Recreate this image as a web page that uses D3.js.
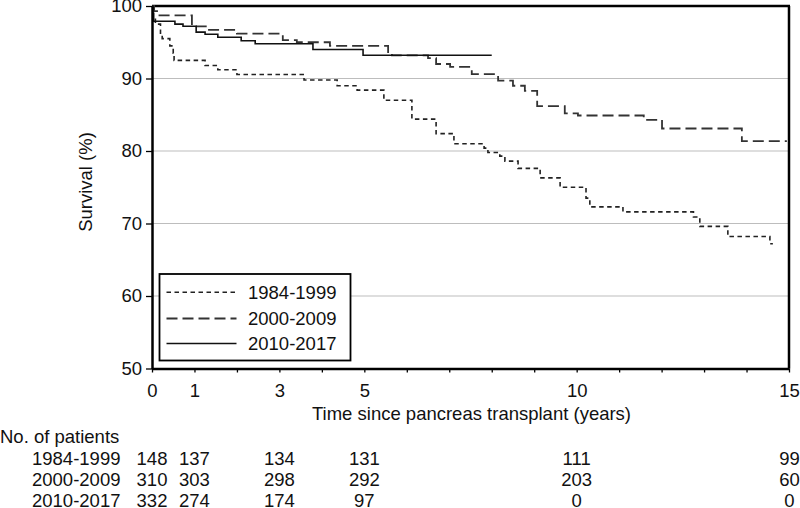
<!DOCTYPE html>
<html>
<head>
<meta charset="utf-8">
<script src="https://cdn.jsdelivr.net/npm/d3@7"></script>
<style>
  html, body { margin: 0; padding: 0; background: #fff; }
  svg { display: block; font-family: "Liberation Sans", Arial, sans-serif; }
</style>
</head>
<body>
<svg id="chart" width="800" height="508"></svg>
<script>
// ---- Data ----
const seriesNames = ["1984-1999", "2000-2009", "2010-2017"];

const times1984 = [0, 0.02, 0.08, 0.2, 0.24, 0.42, 0.5, 0.52, 1.25, 1.55, 2.0, 3.58, 4.36, 4.83, 5.46, 6.12, 6.69, 7.11, 7.82, 7.91, 8.19, 8.31, 8.62, 9.14, 9.61, 10.22, 10.31, 11.09, 12.75, 12.9, 13.56, 14.55, 14.62];
const surv1984  = [100, 98.5, 97.5, 96.0, 95.5, 94.5, 93.5, 92.5, 91.8, 91.2, 90.55, 89.8, 89.0, 88.4, 87.0, 84.4, 82.4, 81.0, 80.4, 79.8, 79.3, 78.6, 77.6, 76.3, 75.0, 73.5, 72.3, 71.6, 70.9, 69.6, 68.2, 67.2, 67.2];

const times2000 = [0, 0.05, 0.14, 0.94, 1.32, 2.0, 3.08, 3.41, 4.19, 5.56, 5.65, 6.5, 6.69, 7.02, 7.53, 8.15, 8.5, 8.78, 9.07, 9.72, 10.03, 11.58, 12.01, 13.89, 14.95];
const surv2000  = [100, 99.3, 98.7, 97.2, 96.7, 96.2, 95.3, 95.0, 94.5, 93.5, 93.2, 92.8, 92.0, 91.6, 90.6, 89.7, 89.0, 88.3, 86.2, 85.2, 84.9, 84.3, 83.1, 81.35, 81.35];

const times2010 = [0, 0.02, 0.04, 0.54, 0.73, 1.04, 1.25, 1.55, 2.1, 2.43, 3.79, 4.97, 8.0];
const surv2010  = [100, 99.0, 97.9, 97.5, 97.2, 96.4, 96.1, 95.7, 95.2, 94.8, 94.0, 93.2, 93.2];

const yTicks = [50, 60, 70, 80, 90, 100];
const gridTicks = [60, 70, 80, 90];
const xTicks = d3.range(0, 16);
const xLabelTicks = [0, 1, 3, 5, 10, 15];

const riskTimes = [0, 1, 3, 5, 10, 15];
const risk1984 = [148, 137, 134, 131, 111, 99];
const risk2000 = [310, 303, 298, 292, 203, 60];
const risk2010 = [332, 274, 174, 97, 0, 0];

// ---- Drawing ----
const svg = d3.select("#chart");
const FS = "18.5px";
const x = d3.scaleLinear().domain([0, 15]).range([152, 789]);
const y = d3.scaleLinear().domain([50, 100]).range([368.5, 6]);

// grid
svg.append("g").selectAll("line").data(gridTicks).join("line")
  .attr("x1", x(0)).attr("x2", x(15))
  .attr("y1", d => y(d)).attr("y2", d => y(d))
  .attr("stroke", "#bdbdbd").attr("stroke-width", 1.2);

// top and right borders
svg.append("line").attr("x1", x(0)).attr("x2", x(15) + 1).attr("y1", y(100)).attr("y2", y(100))
  .attr("stroke", "#000").attr("stroke-width", 2.5);
svg.append("line").attr("x1", x(15)).attr("x2", x(15)).attr("y1", y(100)).attr("y2", y(50))
  .attr("stroke", "#000").attr("stroke-width", 2.5);

// series
const styles = [
  { dash: "4.5,3.5", width: 1.6, color: "#222" },
  { dash: "11,5", width: 1.8, color: "#333" },
  { dash: null, width: 1.6, color: "#111" }
];
const seriesData = [
  times1984.map((t, i) => [t, surv1984[i]]),
  times2000.map((t, i) => [t, surv2000[i]]),
  times2010.map((t, i) => [t, surv2010[i]])
];
const line = d3.line().x(d => x(d[0])).y(d => y(d[1])).curve(d3.curveStepAfter);
seriesData.forEach((data, i) => {
  svg.append("path").datum(data)
    .attr("d", line)
    .attr("fill", "none")
    .attr("stroke", styles[i].color)
    .attr("stroke-width", styles[i].width)
    .attr("stroke-dasharray", styles[i].dash);
});

// y axis
const yAxis = svg.append("g").attr("transform", `translate(${x(0)},0)`)
  .call(d3.axisLeft(y).tickValues(yTicks).tickSize(6).tickSizeOuter(0).tickPadding(4));
yAxis.select(".domain").attr("stroke-width", 2.5).attr("stroke", "#000");
yAxis.selectAll(".tick line").attr("stroke-width", 1.3);
yAxis.selectAll("text").attr("font-size", FS).attr("font-family", "Liberation Sans, Arial, sans-serif").attr("fill", "#111");

// x axis
const xAxis = svg.append("g").attr("transform", `translate(0,${y(50)})`)
  .call(d3.axisBottom(x).tickValues(xTicks).tickSize(4).tickSizeOuter(0).tickPadding(11)
    .tickFormat(d => xLabelTicks.includes(d) ? d : ""));
xAxis.select(".domain").attr("stroke-width", 2.5).attr("stroke", "#000");
xAxis.selectAll(".tick line").attr("stroke-width", 1.3);
xAxis.selectAll("text").attr("font-size", FS).attr("font-family", "Liberation Sans, Arial, sans-serif").attr("fill", "#111");

// axis titles
svg.append("text")
  .attr("transform", `translate(92,182) rotate(-90)`)
  .attr("text-anchor", "middle")
  .attr("font-size", FS).attr("fill", "#111")
  .text("Survival (%)");
svg.append("text")
  .attr("x", 471.5).attr("y", 420)
  .attr("text-anchor", "middle")
  .attr("font-size", FS).attr("fill", "#111")
  .text("Time since pancreas transplant (years)");

// legend
const lg = svg.append("g");
lg.append("rect").attr("x", 159.5).attr("y", 274).attr("width", 191).attr("height", 86.5)
  .attr("fill", "#fff").attr("stroke", "#000").attr("stroke-width", 1.8);
const legendY = [292.3, 318.5, 343.5];
seriesNames.forEach((name, i) => {
  lg.append("line").attr("x1", 166.5).attr("x2", 236.5)
    .attr("y1", legendY[i]).attr("y2", legendY[i])
    .attr("stroke", styles[i].color).attr("stroke-width", styles[i].width)
    .attr("stroke-dasharray", styles[i].dash);
  lg.append("text").attr("x", 248).attr("y", legendY[i]).attr("dy", "0.35em")
    .attr("font-size", FS).attr("fill", "#111").text(name);
});

// numbers at risk table
svg.append("text").attr("x", 0).attr("y", 443).attr("font-size", FS).attr("fill", "#111")
  .text("No. of patients");
const riskRows = [risk1984, risk2000, risk2010];
const rowY = [465, 486, 507];
riskRows.forEach((row, i) => {
  svg.append("text").attr("x", 32).attr("y", rowY[i]).attr("font-size", FS).attr("fill", "#111")
    .text(seriesNames[i]);
  svg.append("g").selectAll("text").data(row).join("text")
    .attr("x", (d, j) => x(riskTimes[j]) + (riskTimes[j] === 15 ? 0.5 : 0))
    .attr("y", rowY[i])
    .attr("text-anchor", "middle")
    .attr("font-size", FS).attr("fill", "#111")
    .text(d => d);
});
</script>
</body>
</html>
